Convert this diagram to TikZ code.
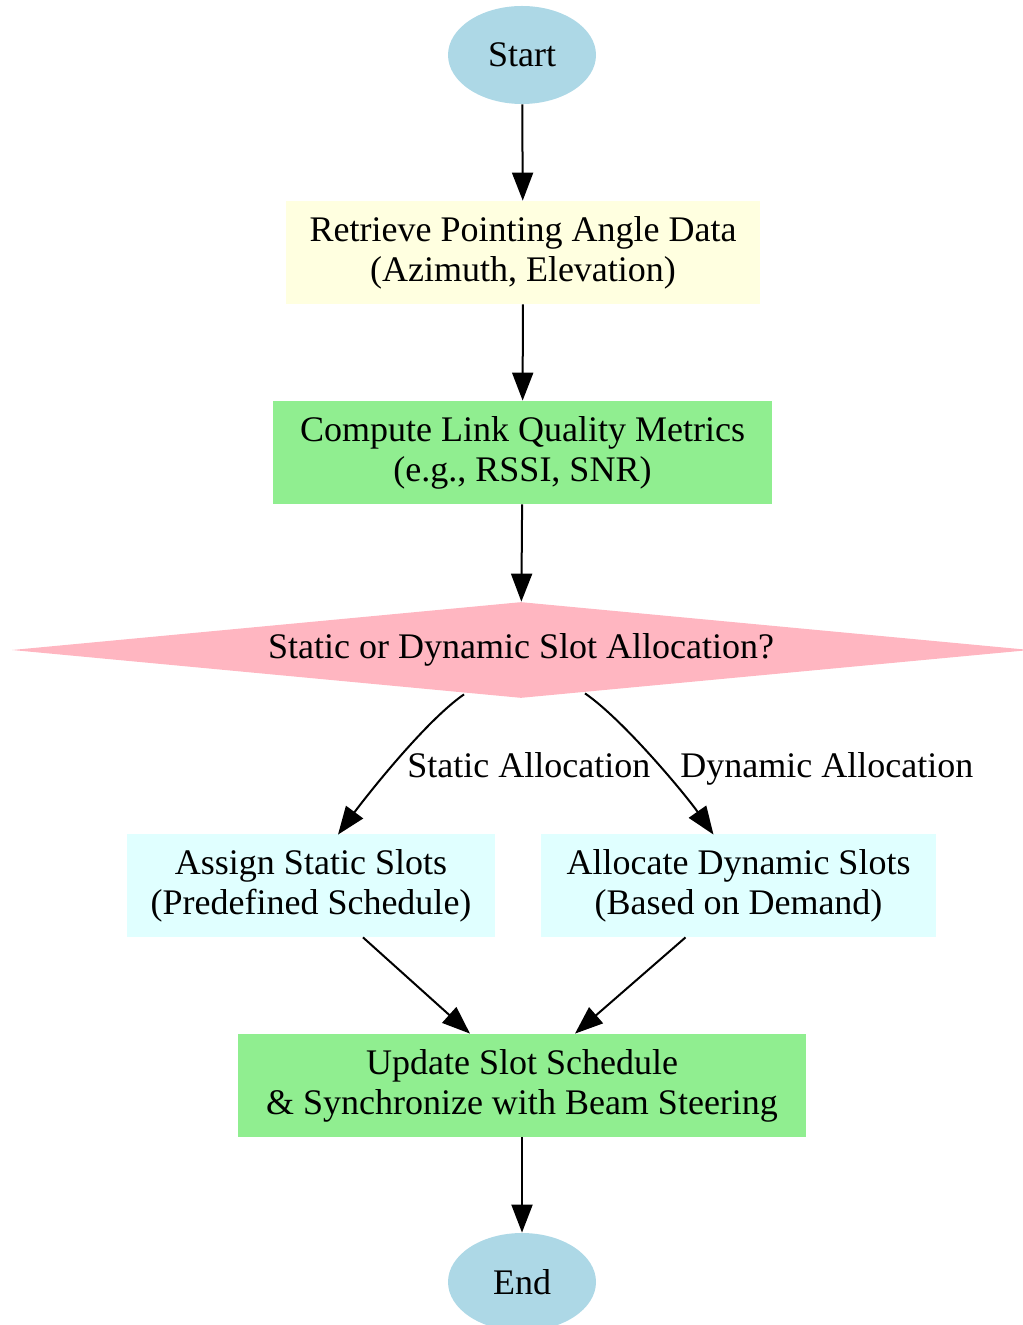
\documentclass[tikz,border=0pt]{standalone}
\usepackage{fontspec}
\setmainfont{Liberation Serif}
\usetikzlibrary{shapes.geometric,arrows.meta,calc}
\definecolor{startblue}{HTML}{ADD8E6}
\definecolor{dataYellow}{HTML}{FFFFE0}
\definecolor{procGreen}{HTML}{90EE90}
\definecolor{decPink}{HTML}{FFB6C1}
\definecolor{slotCyan}{HTML}{E0FFFF}
\tikzset{
  base/.style={font=\fontsize{18}{20}\selectfont, align=center, inner sep=0pt},
  terminal/.style={base, ellipse, fill=startblue, minimum width=74pt, minimum height=49pt},
  procbox/.style={base, rectangle, minimum height=51.5pt},
  decision/.style={base, diamond, aspect=10.6, fill=decPink, minimum width=509pt, minimum height=48pt},
  arr/.style={line width=1pt, -{Triangle[length=14pt,width=10.5pt]}},
  edgelabel/.style={font=\fontsize{18}{20}\selectfont, inner sep=0pt, anchor=base west}
}
\begin{document}
\begin{tikzpicture}[x=0.5pt,y=-0.5pt]
  \useasboundingbox (0,0) rectangle (1022,1325);

  % flow nodes
  \node[terminal] (start) at (522,55) {Start};
  \node[procbox, fill=dataYellow, minimum width=237pt] (retrieve) at (523,252.5)
    {Retrieve Pointing Angle Data\\(Azimuth, Elevation)};
  \node[procbox, fill=procGreen, minimum width=249.5pt] (compute) at (522.5,452.5)
    {Compute Link Quality Metrics\\(e.g., RSSI, SNR)};
  \node[decision] (choice) at (521,650) {Static or Dynamic Slot Allocation?};
  \node[procbox, fill=slotCyan, minimum width=184pt] (static) at (311,885.5)
    {Assign Static Slots\\(Predefined Schedule)};
  \node[procbox, fill=slotCyan, minimum width=197.5pt] (dynamic) at (738.5,885.5)
    {Allocate Dynamic Slots\\(Based on Demand)};
  \node[procbox, fill=procGreen, minimum width=284pt] (update) at (522,1085.5)
    {Update Slot Schedule\\\& Synchronize with Beam Steering};
  \node[terminal] (end) at (522,1282) {End};

  % straight connectors
  \draw[arr] (start) -- (retrieve);
  \draw[arr] (retrieve) -- (compute);
  \draw[arr] (compute) -- (choice);
  \draw[arr] (update) -- (end);

  % branches out of the decision
  \coordinate (sOut) at ($(choice.south)+(-57,-4)$);
  \coordinate (sIn)  at ($(static.north)+(27,1)$);
  \coordinate (dOut) at ($(choice.south)+(64,-5)$);
  \coordinate (dIn)  at ($(dynamic.north)+(-25,1)$);
  \draw[arr] (sOut) .. controls ($(sOut)+(-38,26)$) and ($(sIn)+(28,-38)$) .. (sIn);
  \draw[arr] (dOut) .. controls ($(dOut)+(38,26)$) and ($(dIn)+(-28,-40)$) .. (dIn);
  \node[edgelabel] (lblStatic) at (407,777) {Static Allocation};
  \node[edgelabel] (lblDynamic) at (680,777) {Dynamic Allocation};

  % merge into the schedule update
  \coordinate (sDown) at ($(static.south)+(52,0)$);
  \coordinate (dDown) at ($(dynamic.south)+(-53,0)$);
  \draw[arr] (sDown) -- ($(update.north)+(-52,0)$);
  \draw[arr] (dDown) -- ($(update.north)+(53,0)$);
\end{tikzpicture}
\end{document}
